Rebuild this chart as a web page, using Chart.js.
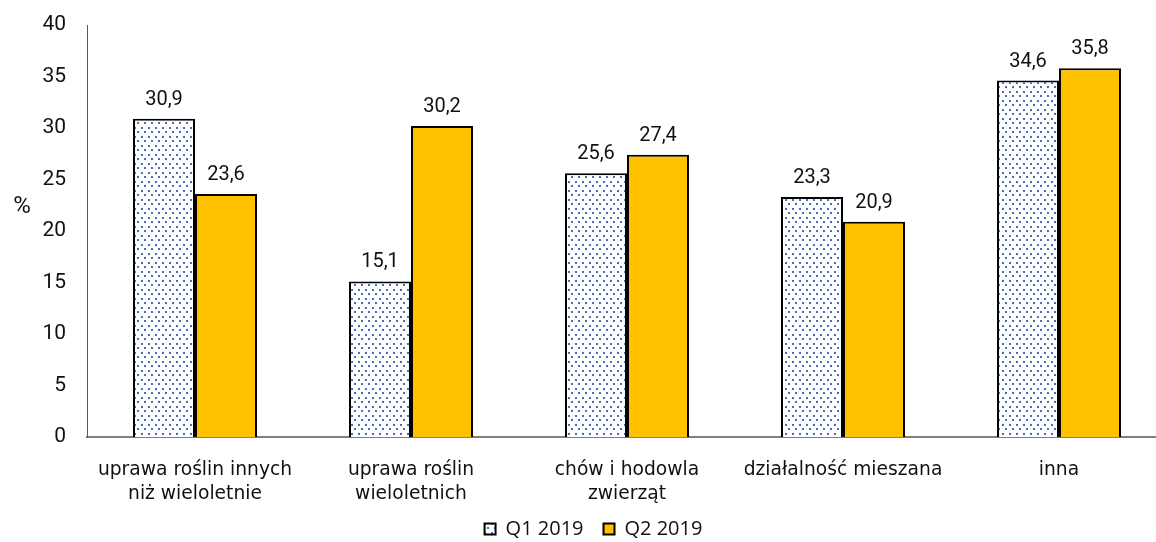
<!DOCTYPE html>
<html><head><meta charset="utf-8">
<script src="https://cdn.jsdelivr.net/npm/chart.js@4"></script>
<style>html,body{margin:0;padding:0;background:#fff;overflow:hidden}#wrap{width:1156px;height:542px;overflow:hidden}</style>
</head><body><div id="wrap"><canvas id="c" width="1186" height="542"></canvas></div>
<script>
const categories = [["uprawa roślin innych","niż wieloletnie"],["uprawa roślin","wieloletnich"],["chów i hodowla","zwierząt"],["działalność mieszana"],["inna"]];
const seriesNames = ["Q1 2019","Q2 2019"];
const q1Values = [30.9, 15.1, 25.6, 23.3, 34.6];
const q2Values = [23.6, 30.2, 27.4, 20.9, 35.8];
const yTicks = [0,5,10,15,20,25,30,35,40];

function makePattern(){
  const t = document.createElement('canvas');
  t.width = 7; t.height = 9;
  const g = t.getContext('2d');
  g.fillStyle = '#ffffff'; g.fillRect(0,0,7,9);
  g.fillStyle = '#4a6fae';
  g.fillRect(1,1,2,2);
  g.fillRect(4,5,2,2);
  return document.getElementById('c').getContext('2d').createPattern(t,'repeat');
}
const pat = makePattern();
const FONT = "'DejaVu Sans', Tahoma, sans-serif";

const labelPlugin = {
  id:'vals',
  afterDatasetsDraw(chart){
    const ctx = chart.ctx;
    ctx.save();
    ctx.font = "20px Roboto, sans-serif";
    ctx.fillStyle = '#111';
    ctx.textAlign = 'center';
    ctx.textBaseline = 'alphabetic';
    chart.data.datasets.forEach((ds,i)=>{
      chart.getDatasetMeta(i).data.forEach((bar,j)=>{
        ctx.fillText(ds.data[j].toFixed(1).replace('.',','), bar.x, bar.y - 14);
      });
    });
    ctx.restore();
  }
};
const yTitlePlugin = {
  id:'ytitle',
  afterDraw(chart){
    const ctx = chart.ctx;
    ctx.save();
    ctx.font = "24px Roboto, sans-serif";
    ctx.fillStyle = '#111';
    ctx.textAlign='center'; ctx.textBaseline='middle';
    ctx.fillText('%', 22, 207);
    ctx.restore();
  }
};
const legendShift = {
  id:'legendShift',
  afterLayout(chart){
    const lg = chart.legend;
    if(lg){
      lg.left += 10; lg.right += 10;
      const target = 531;
      const cur = lg.top + lg.options.labels.padding + 12;
      const d = target - cur;
      lg.top += d; lg.bottom += d;
    }
  }
};

new Chart(document.getElementById('c'), {
  type:'bar',
  data:{
    labels: categories,
    datasets:[
      {label:seriesNames[0], data:q1Values, backgroundColor:pat, borderColor:'#000', borderWidth:2},
      {label:seriesNames[1], data:q2Values, backgroundColor:'#ffc000', borderColor:'#000', borderWidth:2}
    ]
  },
  options:{
    responsive:false, animation:false,
    layout:{padding:{left:0,right:19,top:25,bottom:0}},
    datasets:{bar:{categoryPercentage:0.574, barPercentage:1.0}},
    scales:{
      x:{
        grid:{display:false, drawTicks:false},
        border:{display:true,color:'#808080',width:2},
        ticks:{color:'#111', font:{family:FONT,size:18.7, lineHeight:1.3}, padding:21, maxRotation:0, autoSkip:false},
        afterFit(s){ s.height = 55; s.paddingTop = 0; s._computeLabelArea = function(){ return undefined; }; }
      },
      y:{
        min:0,max:40,
        afterBuildTicks(s){ s.ticks = yTicks.map(v=>({value:v})); },
        grid:{display:false, drawTicks:false},
        border:{display:true,color:'#595959',width:1},
        ticks:{color:'#111', font:{family:"Roboto, sans-serif",size:21}, padding:21},
        afterFit(s){ s.width = 87; s.paddingTop = 0; s.paddingBottom = 0; }
      }
    },
    plugins:{
      legend:{position:'bottom', labels:{color:'#111', font:{family:"'Open Sans', sans-serif",size:20}, boxWidth:11, boxHeight:11, padding:20, useBorderRadius:false}},
      tooltip:{enabled:false}
    }
  },
  plugins:[labelPlugin,yTitlePlugin,legendShift]
});
</script></body></html>
